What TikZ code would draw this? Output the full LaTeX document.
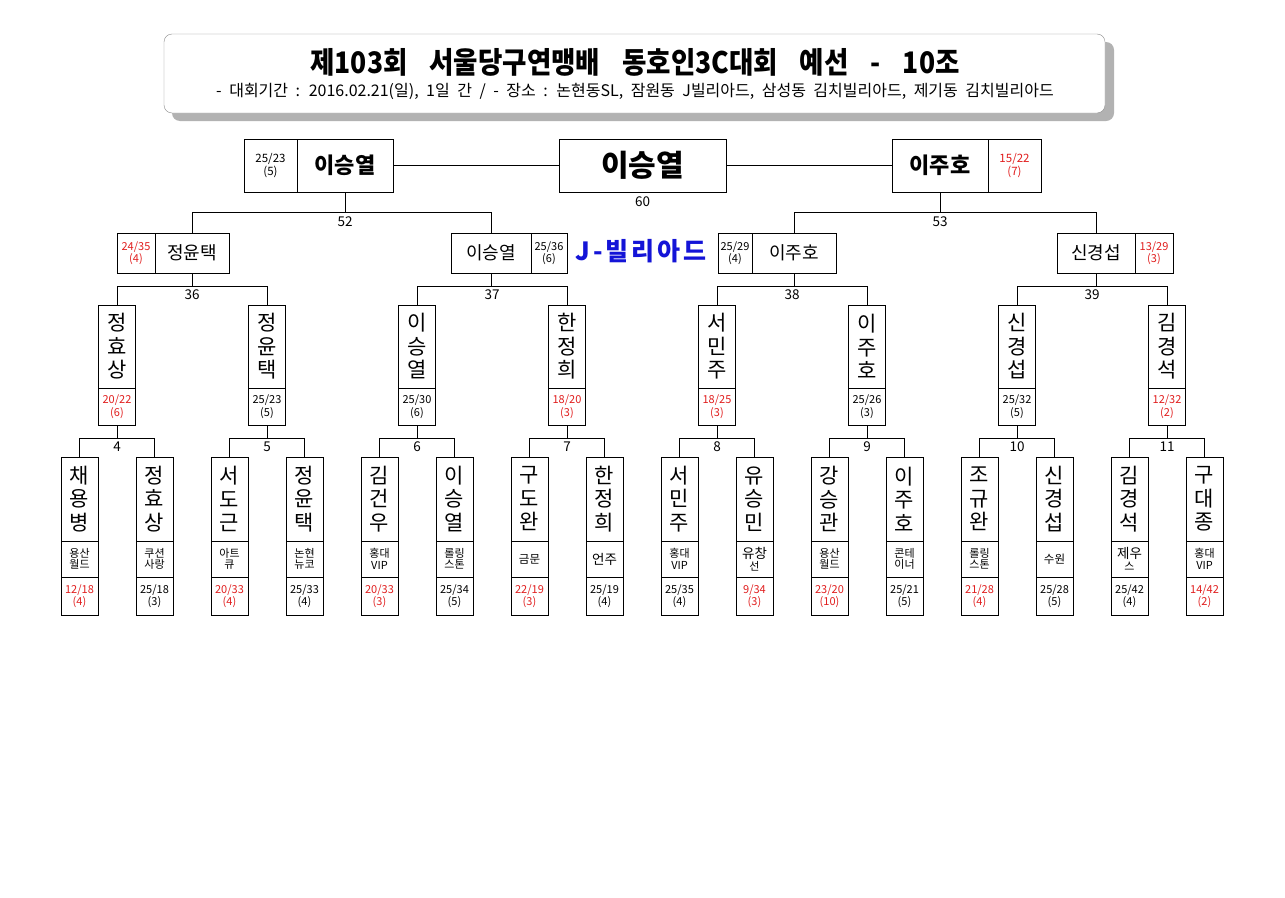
\documentclass[tikz,border=0pt]{standalone}
\usepackage{fontspec}
\usepackage{graphicx}
\usetikzlibrary{calc}
\setmainfont{Noto Sans CJK KR}
\definecolor{myred}{RGB}{225,30,30}
\definecolor{myblue}{RGB}{20,20,215}
\definecolor{shadowgray}{RGB}{178,178,178}
\definecolor{framegray}{RGB}{140,140,140}
\newcommand\myfs[2]{\fontsize{#1}{#2}\selectfont}
\newcommand\tgap{\hspace{22pt}}
\tikzset{
  every node/.style={inner sep=0pt, outer sep=0pt},
  cell/.style={draw, line width=1pt, align=center},
  conn/.style={line width=1pt},
  numlbl/.style={font=\myfs{13.5}{15}},
  scorefont/.style={font=\myfs{11}{12.5}},
  name2/.style={font=\myfs{18}{20}},
  vname/.style={cell, minimum width=37pt, font=\myfs{21}{23.5}},
  clubcell/.style={cell, minimum width=37pt, minimum height=36pt, font=\myfs{11}{11.5}},
}
\newcommand\mymid[5]{%
  \node[vname, minimum height=83pt] (#1n) at (#2,346.5) {#3};
  \node[cell, scorefont, minimum width=37pt, minimum height=37pt, text=#5] (#1s) at (#2,406.5) {#4};
}
\newcommand\mybot[6]{%
  \node[vname, minimum height=84pt] (#1n) at (#2,499) {#3};
  \node[clubcell] (#1c) at (#2,559) {#4};
  \node[cell, scorefont, minimum width=37pt, minimum height=38pt, text=#6] (#1s) at (#2,596) {#5};
}
\begin{document}
\begin{tikzpicture}[x=1pt,y=-1pt]
\useasboundingbox (0,0) rectangle (1285,897);
\fill[white] (0,0) rectangle (1285,897);
% title
\fill[shadowgray, rounded corners=8pt] (172,42) rectangle (1114,121);
\draw[framegray, fill=white, rounded corners=8pt] (164,34) rectangle (1105,113);
\node[font=\bfseries\myfs{26.5}{30}] (title) at (635,62) {\scalebox{1}[1.12]{제103회\tgap 서울당구연맹배\tgap 동호인3C대회\tgap 예선\tgap -\tgap 10조}};
\node[font=\myfs{16}{18}] (sub) at (635,91) {\spaceskip=7.5pt\relax - 대회기간 : 2016.02.21(일), 1일 간 / - 장소 : 논현동SL, 잠원동 J빌리아드, 삼성동 김치빌리아드, 제기동 김치빌리아드};
% bar levels
\coordinate (bar1) at (0,212);
\coordinate (bar2) at (0,286);
\coordinate (bar3) at (0,438);
% top row
\node[cell, minimum width=53pt, minimum height=53pt, font=\myfs{11.5}{13}] (tls) at (270.5,165.5) {25/23\\(5)};
\node[cell, minimum width=96pt, minimum height=53pt, font=\bfseries\myfs{22}{24}] (tln) at (345,165.5) {이승열};
\node[cell, minimum width=167pt, minimum height=53pt, font=\bfseries\myfs{30}{32}] (tc) at (642.5,165.5) {이승열};
\node[cell, minimum width=96pt, minimum height=53pt, font=\bfseries\myfs{22}{24}] (trn) at (940,165.5) {이주호};
\node[cell, minimum width=53pt, minimum height=53pt, font=\myfs{11.5}{13}, text=myred] (trs) at (1014.5,165.5) {15/22\\(7)};
\draw[conn] (tln.east) -- (tc.west);
\draw[conn] (tc.east) -- (trn.west);
\node[numlbl] (n60) at (642.5,202) {60};
% second row
\node[cell, scorefont, minimum width=38pt, minimum height=40pt, text=myred] (as) at (136,253) {24/35\\(4)};
\node[cell, name2, minimum width=74pt, minimum height=40pt] (an) at (192,253) {정윤택};
\node[cell, name2, minimum width=80pt, minimum height=40pt] (bn) at (491,253) {이승열};
\node[cell, scorefont, minimum width=36pt, minimum height=40pt] (bs) at (549,253) {25/36\\(6)};
\node[cell, scorefont, minimum width=34pt, minimum height=40pt] (cs) at (735,253) {25/29\\(4)};
\node[cell, name2, minimum width=84pt, minimum height=40pt] (cn) at (794,253) {이주호};
\node[cell, name2, minimum width=78pt, minimum height=40pt] (dn) at (1096,253) {신경섭};
\node[cell, scorefont, minimum width=38pt, minimum height=40pt, text=myred] (ds) at (1154,253) {13/29\\(3)};
\node[font=\bfseries\myfs{25}{27}\addfontfeatures{LetterSpace=12}, text=myblue] (jb) at (641,251) {J-빌리아드};
\draw[conn] (tln.south) -- (tln.south |- bar1);
\draw[conn] (an.north) -- (an.north |- bar1) -- (bn.north |- bar1) -- (bn.north);
\draw[conn] (trn.south) -- (trn.south |- bar1);
\draw[conn] (cn.north) -- (cn.north |- bar1) -- (dn.north |- bar1) -- (dn.north);
\node[numlbl] (n52) at (345,222) {52};
\node[numlbl] (n53) at (940,222) {53};
% third row
\mymid{t1}{117}{정\\효\\상}{20/22\\(6)}{myred}
\mymid{t2}{267}{정\\윤\\택}{25/23\\(5)}{black}
\mymid{t3}{417}{이\\승\\열}{25/30\\(6)}{black}
\mymid{t4}{567}{한\\정\\희}{18/20\\(3)}{myred}
\mymid{t5}{717}{서\\민\\주}{18/25\\(3)}{myred}
\mymid{t6}{867}{이\\주\\호}{25/26\\(3)}{black}
\mymid{t7}{1017}{신\\경\\섭}{25/32\\(5)}{black}
\mymid{t8}{1167}{김\\경\\석}{12/32\\(2)}{myred}
\draw[conn] (an.south) -- (an.south |- bar2);
\draw[conn] (t1n.north) -- (t1n.north |- bar2) -- (t2n.north |- bar2) -- (t2n.north);
\draw[conn] (bn.south) -- (bn.south |- bar2);
\draw[conn] (t3n.north) -- (t3n.north |- bar2) -- (t4n.north |- bar2) -- (t4n.north);
\draw[conn] (cn.south) -- (cn.south |- bar2);
\draw[conn] (t5n.north) -- (t5n.north |- bar2) -- (t6n.north |- bar2) -- (t6n.north);
\draw[conn] (dn.south) -- (dn.south |- bar2);
\draw[conn] (t7n.north) -- (t7n.north |- bar2) -- (t8n.north |- bar2) -- (t8n.north);
\node[numlbl] (n36) at (192,295) {36};
\node[numlbl] (n37) at (492,295) {37};
\node[numlbl] (n38) at (792,295) {38};
\node[numlbl] (n39) at (1092,295) {39};
% bottom row
\mybot{b1}{79.5}{채\\용\\병}{용산\\월드}{12/18\\(4)}{myred}
\mybot{b2}{154.5}{정\\효\\상}{쿠션\\사랑}{25/18\\(3)}{black}
\mybot{b3}{229.5}{서\\도\\근}{아트\\큐}{20/33\\(4)}{myred}
\mybot{b4}{304.5}{정\\윤\\택}{논현\\뉴코}{25/33\\(4)}{black}
\mybot{b5}{379.5}{김\\건\\우}{홍대\\VIP}{20/33\\(3)}{myred}
\mybot{b6}{454.5}{이\\승\\열}{롤링\\스톤}{25/34\\(5)}{black}
\mybot{b7}{529.5}{구\\도\\완}{\myfs{11.5}{12}금문}{22/19\\(3)}{myred}
\mybot{b8}{604.5}{한\\정\\희}{\myfs{13.5}{14}언주}{25/19\\(4)}{black}
\mybot{b9}{679.5}{서\\민\\주}{홍대\\VIP}{25/35\\(4)}{black}
\mybot{b10}{754.5}{유\\승\\민}{\myfs{13.5}{14.5}유창\\선}{9/34\\(3)}{myred}
\mybot{b11}{829.5}{강\\승\\관}{용산\\월드}{23/20\\(10)}{myred}
\mybot{b12}{904.5}{이\\주\\호}{콘테\\이너}{25/21\\(5)}{black}
\mybot{b13}{979.5}{조\\규\\완}{롤링\\스톤}{21/28\\(4)}{myred}
\mybot{b14}{1054.5}{신\\경\\섭}{\myfs{11.5}{12}수원}{25/28\\(5)}{black}
\mybot{b15}{1129.5}{김\\경\\석}{\myfs{13.5}{14.5}제우\\스}{25/42\\(4)}{black}
\mybot{b16}{1204.5}{구\\대\\종}{홍대\\VIP}{14/42\\(2)}{myred}
\foreach \k/\i/\j/\lab in {1/1/2/4, 2/3/4/5, 3/5/6/6, 4/7/8/7, 5/9/10/8, 6/11/12/9, 7/13/14/10, 8/15/16/11} {
  \draw[conn] (t\k s.south) -- (t\k s.south |- bar3);
  \draw[conn] (b\i n.north) -- (b\i n.north |- bar3) -- (b\j n.north |- bar3) -- (b\j n.north);
  \node[numlbl] (lab\lab) at ($(t\k s.south |- bar3)+(0,9)$) {\lab};
}
\end{tikzpicture}
\end{document}
